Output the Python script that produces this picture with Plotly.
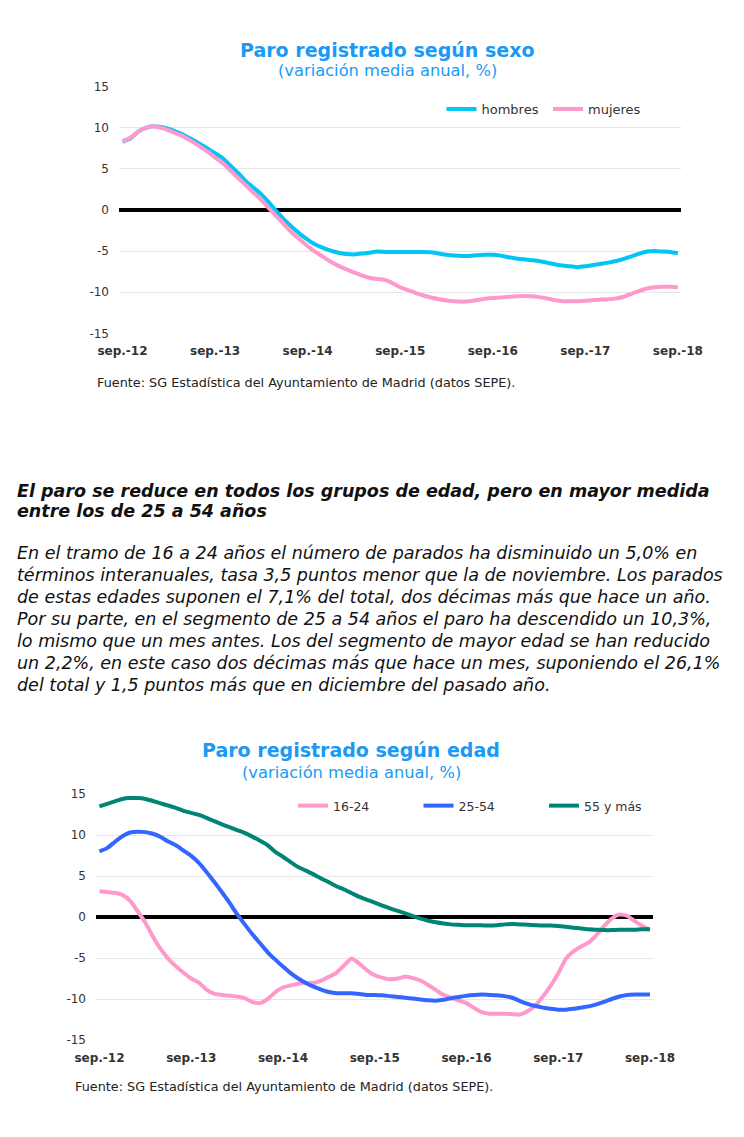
import plotly.graph_objects as go

# ---------------- data ----------------
ABBR = ["sep.", "oct.", "nov.", "dic.", "ene.", "feb.", "mar.", "abr.", "may.", "jun.", "jul.", "ago."]
months = [f"{ABBR[i % 12]}-{(2012 + (8 + i) // 12) % 100:02d}" for i in range(73)]
tick_cats = [m for m in months if m.startswith("sep.")]

hombres = [8.3, 8.7, 9.5, 10.0, 10.2, 10.1, 9.85, 9.5, 9.1, 8.6, 8.05, 7.5, 6.9, 6.3, 5.4, 4.5,
           3.5, 2.7, 1.9, 0.9, -0.2, -1.2, -2.1, -2.9, -3.6, -4.2, -4.6, -4.95, -5.2, -5.35, -5.4,
           -5.3, -5.2, -5.05, -5.1, -5.1, -5.1,
           -5.1, -5.1, -5.1, -5.15, -5.3, -5.45, -5.55, -5.6, -5.6, -5.5, -5.45, -5.45, -5.55,
           -5.75, -5.9, -6.0, -6.1, -6.2, -6.4, -6.6, -6.75, -6.85, -6.95, -6.85, -6.7, -6.55,
           -6.4, -6.2, -5.95, -5.65, -5.3, -5.05, -5.0, -5.05, -5.1, -5.25]
mujeres = [8.35, 8.8, 9.5, 10.0, 10.2, 10.0, 9.7, 9.3, 8.9, 8.35, 7.75, 7.1, 6.4, 5.7, 4.8, 3.9,
           3.0, 2.1, 1.2, 0.2, -0.8, -1.8, -2.8, -3.6, -4.4, -5.1, -5.7, -6.3, -6.8, -7.2, -7.6,
           -7.95, -8.25, -8.4, -8.5, -8.9,
           -9.4, -9.75, -10.1, -10.4, -10.65, -10.85, -11.0, -11.1, -11.15, -11.1, -10.95, -10.8,
           -10.7, -10.65, -10.55, -10.5, -10.45, -10.5, -10.6, -10.75, -10.95, -11.1, -11.1,
           -11.1, -11.05, -10.95, -10.9, -10.85, -10.75, -10.55, -10.2, -9.85, -9.55, -9.4,
           -9.35, -9.35, -9.4]

edad_16_24 = [3.15, 3.05, 2.95, 2.7, 2.0, 0.7, -0.7, -2.4, -3.9, -5.1, -6.0, -6.8, -7.5, -8.0,
              -8.85, -9.35, -9.5, -9.6, -9.7, -9.9, -10.35, -10.5, -10.0, -9.15, -8.6, -8.35,
              -8.15, -8.05, -8.05, -7.75, -7.3, -6.8, -5.9, -5.05, -5.7, -6.5,
              -7.1, -7.4, -7.6, -7.5, -7.3, -7.45, -7.75, -8.3, -8.9, -9.5, -9.85, -10.2, -10.5,
              -11.1, -11.6, -11.8, -11.8, -11.8, -11.85, -11.9, -11.5, -10.8, -9.7, -8.4, -6.9,
              -5.1, -4.2, -3.6, -3.1, -2.2, -1.1, -0.2, 0.3, 0.15, -0.5, -1.1, -1.6]
edad_25_54 = [8.0, 8.4, 9.15, 9.85, 10.3, 10.4, 10.35, 10.15, 9.75, 9.2, 8.75, 8.1, 7.45, 6.6,
              5.5, 4.3, 3.05, 1.75, 0.35, -0.9, -2.1, -3.2, -4.3, -5.2, -6.05, -6.85, -7.5,
              -8.05, -8.5, -8.85, -9.15, -9.3, -9.3, -9.3, -9.4, -9.5,
              -9.5, -9.55, -9.65, -9.75, -9.85, -9.95, -10.05, -10.15, -10.2, -10.1, -9.9,
              -9.75, -9.6, -9.5, -9.45, -9.5, -9.55, -9.65, -9.85, -10.25, -10.6, -10.85,
              -11.05, -11.2, -11.3, -11.3, -11.2, -11.05, -10.9, -10.65, -10.35, -10.0, -9.7,
              -9.5, -9.45, -9.45, -9.45]
edad_55_mas = [13.5, 13.8, 14.1, 14.4, 14.5, 14.5, 14.4, 14.15, 13.85, 13.6, 13.3, 12.95, 12.7,
               12.45, 12.1, 11.7, 11.3, 10.95, 10.6, 10.25, 9.8, 9.3, 8.75, 7.95, 7.35, 6.7,
               6.1, 5.65, 5.2, 4.7, 4.25, 3.75, 3.35, 2.9, 2.45, 2.1,
               1.75, 1.4, 1.05, 0.75, 0.45, 0.1, -0.2, -0.45, -0.65, -0.8, -0.9, -0.95, -1.0,
               -1.0, -1.0, -1.05, -1.0, -0.9, -0.85, -0.9, -0.95, -1.0, -1.05, -1.05, -1.1,
               -1.2, -1.3, -1.4, -1.5, -1.55, -1.6, -1.6, -1.55, -1.55, -1.55, -1.5, -1.5]

y_ticks = [-15, -10, -5, 0, 5, 10, 15]
y_ticktext = [str(v) for v in y_ticks]

body_lines = [
    "En el tramo de 16 a 24 años el número de parados ha disminuido un 5,0% en",
    "términos interanuales, tasa 3,5 puntos menor que la de noviembre. Los parados",
    "de estas edades suponen el 7,1% del total, dos décimas más que hace un año.",
    "Por su parte, en el segmento de 25 a 54 años el paro ha descendido un 10,3%,",
    "lo mismo que un mes antes. Los del segmento de mayor edad se han reducido",
    "un 2,2%, en este caso dos décimas más que hace un mes, suponiendo el 26,1%",
    "del total y 1,5 puntos más que en diciembre del pasado año.",
]
heading_lines = [
    "El paro se reduce en todos los grupos de edad, pero en mayor medida",
    "entre los de 25 a 54 años",
]
fuente = "Fuente: SG Estadística del Ayuntamiento de Madrid (datos SEPE)."

# ---------------- geometry helpers ----------------
W, H, OFF = 728, 1121, 8
FONT = "DejaVu Sans"
BLUE_T = "#1a9af5"
TXT = "#333333"


def px(x):
    return (x - OFF) / W


def py(y):
    return 1 - (y - OFF) / H


fig = go.Figure()

LW = 4
fig.add_trace(go.Scatter(x=months, y=hombres, name="hombres", mode="lines",
                         line=dict(color="#00c5f5", width=LW, shape="spline", smoothing=0.6),
                         xaxis="x", yaxis="y", legend="legend"))
fig.add_trace(go.Scatter(x=months, y=mujeres, name="mujeres", mode="lines",
                         line=dict(color="#ff99cc", width=LW, shape="spline", smoothing=0.6),
                         xaxis="x", yaxis="y", legend="legend"))
fig.add_trace(go.Scatter(x=months, y=edad_16_24, name="16-24", mode="lines",
                         line=dict(color="#ff99cc", width=LW, shape="spline", smoothing=0.6),
                         xaxis="x2", yaxis="y2", legend="legend2"))
fig.add_trace(go.Scatter(x=months, y=edad_25_54, name="25-54", mode="lines",
                         line=dict(color="#3366ff", width=LW, shape="spline", smoothing=0.6),
                         xaxis="x2", yaxis="y2", legend="legend2"))
fig.add_trace(go.Scatter(x=months, y=edad_55_mas, name="55 y más", mode="lines",
                         line=dict(color="#008575", width=LW, shape="spline", smoothing=0.6),
                         xaxis="x2", yaxis="y2", legend="legend2"))

xtick_text = [f"<b>{t}</b>" for t in tick_cats]


def xaxis(domain):
    return dict(domain=domain, type="category", range=[-0.45, 72.4], automargin=False,
                tickvals=tick_cats, ticktext=xtick_text, showgrid=False, showline=False,
                zeroline=False, ticks="", ticklabelstandoff=8,
                tickfont=dict(family=FONT, size=12, color=TXT), fixedrange=True)


def yaxis(domain):
    return dict(domain=domain, range=[-15.1, 15.1], tickvals=y_ticks, ticktext=y_ticktext,
                automargin=False,
                showgrid=True, gridcolor="#e6e6e6", gridwidth=1, zeroline=True,
                zerolinecolor="black", zerolinewidth=3.5, showline=False, ticks="",
                ticklabelstandoff=9, tickfont=dict(family=FONT, size=12, color=TXT),
                fixedrange=True)


ann = []
# Chart titles
ann.append(dict(text="<b>Paro registrado según sexo</b>", x=px(387), y=py(50),
                font=dict(family=FONT, size=19, color=BLUE_T)))
ann.append(dict(text="(variación media anual, %)", x=px(387), y=py(71),
                font=dict(family=FONT, size=16.3, color=BLUE_T)))
ann.append(dict(text="<b>Paro registrado según edad</b>", x=px(351), y=py(750),
                font=dict(family=FONT, size=19, color=BLUE_T)))
ann.append(dict(text="(variación media anual, %)", x=px(351), y=py(772),
                font=dict(family=FONT, size=16.3, color=BLUE_T)))
for a in ann:
    a.update(xref="paper", yref="paper", xanchor="center", yanchor="middle", showarrow=False)

# Sources
for (fx, fy) in [(95, 382), (73, 1086)]:
    ann.append(dict(text=fuente, x=px(fx), y=py(fy), xref="paper", yref="paper",
                    xanchor="left", yanchor="middle", showarrow=False,
                    font=dict(family=FONT, size=12.8, color="#222222")))

# Heading
for i, line in enumerate(heading_lines):
    ann.append(dict(text=f"<b><i>{line}</i></b>", x=px(15), y=py(491 + 20 * i), xref="paper",
                    yref="paper", xanchor="left", yanchor="middle", showarrow=False,
                    font=dict(family=FONT, size=17.5, color="#111111")))
# Body
for i, line in enumerate(body_lines):
    ann.append(dict(text=f"<i>{line}</i>", x=px(15), y=py(553 + 22 * i), xref="paper",
                    yref="paper", xanchor="left", yanchor="middle", showarrow=False,
                    font=dict(family=FONT, size=17.5, color="#111111")))

E1 = 0.1 * 246.6 / 30
E2 = 0.1 * 246.0 / 30
fig.update_layout(
    width=W, height=H, margin=dict(l=0, r=0, t=0, b=0, pad=0, autoexpand=False),
    paper_bgcolor="white", plot_bgcolor="white",
    xaxis=dict(anchor="y", **xaxis([px(119), px(681)])),
    yaxis=dict(anchor="x", **yaxis([py(333.3 + E1), py(86.7 - E1)])),
    xaxis2=dict(anchor="y2", **xaxis([px(96), px(653)])),
    yaxis2=dict(anchor="x2", **yaxis([py(1040 + E2), py(794 - E2)])),
    legend=dict(orientation="h", x=px(441.5), xanchor="left", y=py(109), yanchor="middle",
                entrywidth=61.5, entrywidthmode="pixels", bgcolor="rgba(0,0,0,0)",
                font=dict(family=FONT, size=13, color=TXT), traceorder="normal"),
    legend2=dict(orientation="h", x=px(293), xanchor="left", y=py(806), yanchor="middle",
                 entrywidth=80.5, entrywidthmode="pixels", bgcolor="rgba(0,0,0,0)",
                 font=dict(family=FONT, size=12.5, color=TXT), traceorder="normal"),
    annotations=ann,
    showlegend=True,
)

fig.write_html("out.html")
